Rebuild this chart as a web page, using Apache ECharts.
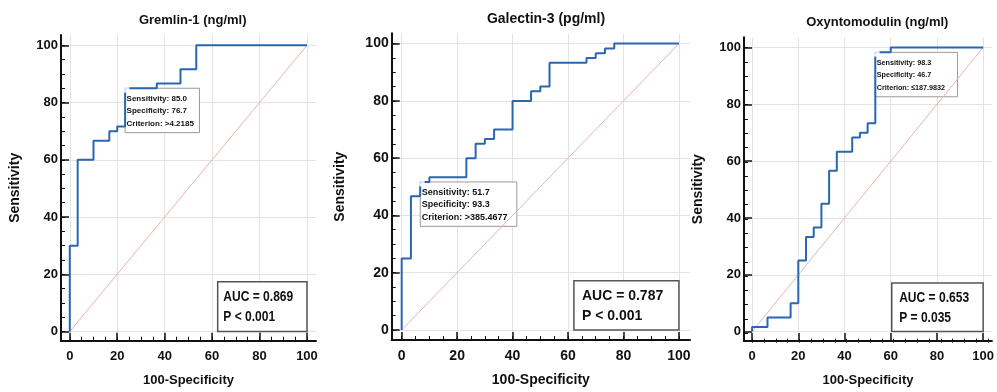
<!DOCTYPE html>
<html>
<head>
<meta charset="utf-8">
<title>ROC curves</title>
<script src="https://cdn.jsdelivr.net/npm/echarts@6/dist/echarts.min.js"></script>
<style>
  html, body { margin: 0; padding: 0; background: #fff; }
  #chart { width: 997px; height: 392px; }
</style>
</head>
<body>
<div id="chart"></div>
<script>
// ROC points: x = 100-Specificity, y = Sensitivity (drawn as steps)
const titles = ["Gremlin-1 (ng/ml)", "Galectin-3 (pg/ml)", "Oxyntomodulin (ng/ml)"];

const gremlinFpr = [0, 3.33, 10, 16.67, 20, 23.33, 36.67, 46.67, 53.33, 100];
const gremlinSens = [0, 30, 60, 66.67, 70, 71.67, 85, 86.67, 91.67, 100];

const galectinFpr = [0, 3.33, 6.67, 10, 23.33, 26.67, 30, 33.33, 40, 46.67, 50, 53.33, 66.67, 70, 73.33, 76.67, 100];
const galectinSens = [0, 25, 46.67, 51.67, 53.33, 60, 65, 66.67, 70, 80, 83.33, 85, 93.33, 95, 96.67, 98.33, 100];

const oxyntoFpr = [0, 6.67, 16.67, 20, 23.33, 26.67, 30, 33.33, 36.67, 43.33, 46.67, 50, 53.33, 60, 100];
const oxyntoSens = [0, 1.67, 5, 10, 25, 33.33, 36.67, 45, 56.67, 63.33, 68.33, 70, 73.33, 98.33, 100];

// optimal cut-off points
const cutSensitivity = [85.0, 51.7, 98.3];
const cutSpecificity = [76.7, 93.3, 46.7];
const cutCriterion = [">4.2185", ">385.4677", "\u2264187.9832"];

const aucText = ["AUC = 0.869", "AUC = 0.787", "AUC = 0.653"];
const pText = ["P < 0.001", "P < 0.001", "P = 0.035"];

const tickValues = [0, 20, 40, 60, 80, 100];
const minorTickValues = [0, 5, 10, 15, 20, 25, 30, 35, 40, 45, 50, 55, 60, 65, 70, 75, 80, 85, 90, 95, 100];

const curves = [
  [gremlinFpr, gremlinSens],
  [galectinFpr, galectinSens],
  [oxyntoFpr, oxyntoSens],
];

const FONT = "'Liberation Sans', Arial, sans-serif";

// layout of the three panels (pixels)
const panels = [
  { left: 61, top: 35, width: 255, height: 305.7, xMin: -3.7, xMax: 103.8, yMin: -3.2, yMax: 103.6,
    font: 13, titleX: 192.7, titleY: 21.7, yNameGap: 39, tipFont: 8, tipScale: 1, tipW: 74.4,
    aucW: 89.3, aucH: 49.7, aucScale: 0.86, aucPad: 5.6 },
  { left: 391.7, top: 33.3, width: 298.3, height: 306.7, xMin: -3.6, xMax: 104, yMin: -3.5, yMax: 103.6,
    font: 14, titleX: 546, titleY: 20, yNameGap: 45, tipFont: 9, tipScale: 1, tipW: 96.6,
    aucW: 105, aucH: 49.3, aucScale: 1, aucPad: 8 },
  { left: 744, top: 37.3, width: 255, height: 305.4, xMin: -3.5, xMax: 103.8, yMin: -3.3, yMax: 103.6,
    font: 13, titleX: 877.3, titleY: 24, yNameGap: 39, tipFont: 8, tipScale: 0.9, tipW: 82.3,
    aucW: 91.4, aucH: 48.7, aucScale: 0.86, aucPad: 7.4 },
];

const chart = echarts.init(document.getElementById("chart"));

const grids = [];
const xAxes = [];
const yAxes = [];
const series = [];

panels.forEach((p, i) => {
  grids.push({ left: p.left, top: p.top, width: p.width, height: p.height });
  xAxes.push({
    gridIndex: i,
    type: "value",
    min: p.xMin,
    max: p.xMax,
    name: "100-Specificity",
    nameLocation: "middle",
    nameGap: 33,
    nameTextStyle: { fontFamily: FONT, fontWeight: "bold", fontSize: p.font, color: "#111" },
    axisLine: { onZero: false, lineStyle: { color: "#111", width: 2 } },
    axisTick: { inside: true, length: 8, customValues: tickValues, lineStyle: { color: "#111", width: 1.5 } },
    axisLabel: { customValues: tickValues, margin: 9, fontFamily: FONT, fontWeight: "bold", fontSize: p.font, color: "#111" },
    splitLine: { show: true, lineStyle: { color: "#e3e3e3", width: 1 } },
  });
  yAxes.push({
    gridIndex: i,
    type: "value",
    min: p.yMin,
    max: p.yMax,
    name: "Sensitivity",
    nameLocation: "middle",
    nameGap: p.yNameGap,
    nameTextStyle: { fontFamily: FONT, fontWeight: "bold", fontSize: 14, color: "#111" },
    axisLine: { show: true, onZero: false, lineStyle: { color: "#111", width: 2 } },
    axisTick: { show: true, inside: true, length: 8, customValues: tickValues, lineStyle: { color: "#111", width: 1.5 } },
    axisLabel: { customValues: tickValues, margin: 3, fontFamily: FONT, fontWeight: "bold", fontSize: p.font, color: "#111" },
    splitLine: { show: true, lineStyle: { color: "#e3e3e3", width: 1 } },
  });

  // reference diagonal
  series.push({
    type: "line",
    xAxisIndex: i,
    yAxisIndex: i,
    data: [[0, 0], [100, 100]],
    symbol: "none",
    silent: true,
    lineStyle: { color: "#e8b4ae", width: 1 },
    z: 2,
  });
  // ROC curve: vertical rise first, then horizontal run
  const [fpr, sens] = curves[i];
  series.push({
    type: "line",
    xAxisIndex: i,
    yAxisIndex: i,
    step: "start",
    data: fpr.map((x, k) => [x, sens[k]]),
    symbol: "none",
    lineStyle: { color: "#2a66b1", width: 2 },
    z: 3,
  });
  // cut-off marker, drawn above its label box
  series.push({
    type: "scatter",
    xAxisIndex: i,
    yAxisIndex: i,
    data: [[100 - cutSpecificity[i], cutSensitivity[i]]],
    symbol: "emptyCircle",
    symbolSize: 7,
    itemStyle: { color: "#fff", borderColor: "#f2a25c", borderWidth: 1 },
    z: 200,
  });
});

// minor ticks on overlay grids
panels.forEach((p, i) => {
  grids.push({ left: p.left, top: p.top, width: p.width, height: p.height });
  const g = panels.length + i;
  xAxes.push({
    gridIndex: g, type: "value", min: p.xMin, max: p.xMax,
    axisLine: { show: false, onZero: false },
    axisLabel: { show: false },
    splitLine: { show: false },
    axisTick: { show: true, inside: true, length: 4, customValues: minorTickValues, lineStyle: { color: "#111", width: 1 } },
  });
  yAxes.push({
    gridIndex: g, type: "value", min: p.yMin, max: p.yMax,
    axisLine: { show: false, onZero: false },
    axisLabel: { show: false },
    splitLine: { show: false },
    axisTick: { show: true, inside: true, length: 4, customValues: minorTickValues, lineStyle: { color: "#111", width: 1 } },
  });
});

chart.setOption({
  backgroundColor: "#fff",
  animation: false,
  title: panels.map((p, i) => ({
    text: titles[i],
    left: p.titleX,
    top: p.titleY - 8,
    textAlign: "center",
    padding: 0,
    textStyle: { fontFamily: FONT, fontWeight: "bold", fontSize: p.font, color: "#111" },
  })),
  grid: grids,
  xAxis: xAxes,
  yAxis: yAxes,
  series: series,
});

// annotation boxes anchored to data coordinates
const graphics = [];
panels.forEach((p, i) => {
  const cut = chart.convertToPixel({ gridIndex: i }, [100 - cutSpecificity[i], cutSensitivity[i]]);
  const lines = [
    "Sensitivity: " + cutSensitivity[i].toFixed(1),
    "Specificity: " + cutSpecificity[i].toFixed(1),
    "Criterion: " + cutCriterion[i],
  ];
  graphics.push({
    type: "group",
    x: cut[0],
    y: cut[1],
    z: 100,
    children: [
      { type: "rect", shape: { x: 0, y: 0, width: p.tipW, height: 44.4 },
        style: { fill: "#fff", stroke: "#9a9a9a", lineWidth: 1 } },
    ].concat(lines.map((t, k) => ({
      type: "text",
      x: 1.5,
      y: 10.3 + k * 12.5,
      scaleX: p.tipScale,
      style: { text: t, fill: "#111", font: "bold " + p.tipFont + "px " + FONT, verticalAlign: "middle" },
    }))),
  });

  const corner = chart.convertToPixel({ gridIndex: i }, [100, 0]);
  graphics.push({
    type: "group",
    x: corner[0] - p.aucW,
    y: corner[1] - p.aucH,
    z: 100,
    children: [
      { type: "rect", shape: { x: 0, y: 0, width: p.aucW, height: p.aucH },
        style: { fill: "#fff", stroke: "#555", lineWidth: 1.5 } },
      { type: "text", x: p.aucPad, y: 15.5, scaleX: p.aucScale,
        style: { text: aucText[i], fill: "#111", font: "bold 14px " + FONT, verticalAlign: "middle" } },
      { type: "text", x: p.aucPad, y: 35.2, scaleX: p.aucScale,
        style: { text: pText[i], fill: "#111", font: "bold 14px " + FONT, verticalAlign: "middle" } },
    ],
  });
});

chart.setOption({ graphic: graphics });

window.addEventListener("resize", () => chart.resize());
</script>
</body>
</html>
